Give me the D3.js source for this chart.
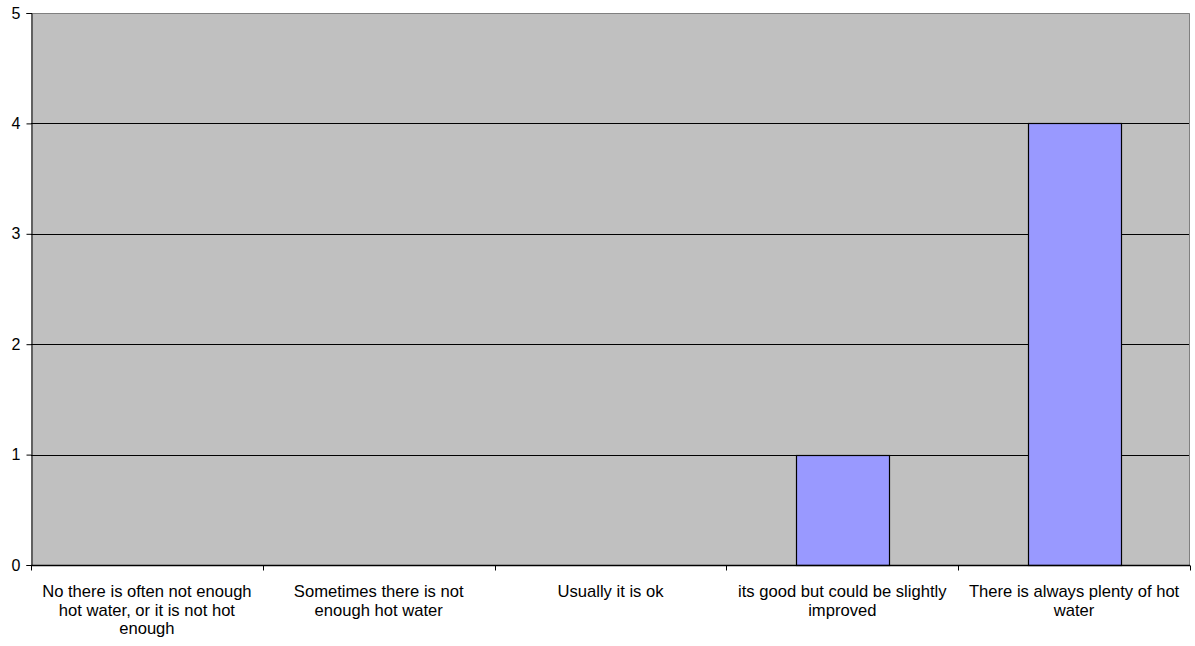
<!DOCTYPE html>
<html>
<head>
<meta charset="utf-8">
<script src="https://cdn.jsdelivr.net/npm/d3@7/dist/d3.min.js"></script>
<style>
  html, body { margin: 0; padding: 0; background: #fff; }
  svg { display: block; font-family: "Liberation Sans", Arial, sans-serif; }
</style>
</head>
<body>
<svg id="chart" width="1195" height="646"></svg>
<script>
// Survey responses about hot water availability
const categories = [
  "No there is often not enough hot water, or it is not hot enough",
  "Sometimes there is not enough hot water",
  "Usually it is ok",
  "its good but could be slightly improved",
  "There is always plenty of hot water"
];
const counts = [0, 0, 0, 1, 4];
const yTicks = [0, 1, 2, 3, 4, 5];

const svg = d3.select("#chart");
const plot = { left: 31, right: 1190, top: 13, bottom: 565 };

const x = d3.scaleBand()
  .domain(categories)
  .range([plot.left, plot.right])
  .padding(0);

const y = d3.scaleLinear()
  .domain([0, 5])
  .range([plot.bottom, plot.top]);

// Plot area background
svg.append("rect")
  .attr("x", plot.left)
  .attr("y", plot.top)
  .attr("width", plot.right - plot.left)
  .attr("height", plot.bottom - plot.top)
  .attr("fill", "#c0c0c0");

// Horizontal gridlines
svg.append("g")
  .selectAll("line")
  .data(yTicks.filter(d => d > 0 && d < 5))
  .join("line")
  .attr("x1", plot.left)
  .attr("x2", plot.right)
  .attr("y1", d => Math.round(y(d)) + 0.5)
  .attr("y2", d => Math.round(y(d)) + 0.5)
  .attr("stroke", "#000")
  .attr("stroke-width", 1);

// Plot area top and right border
svg.append("path")
  .attr("d", `M${plot.left},${plot.top + 0.5}H${plot.right - 0.5}V${plot.bottom}`)
  .attr("fill", "none")
  .attr("stroke", "#808080")
  .attr("stroke-width", 1);

// Bars
const barFrac = 0.4;
svg.append("g")
  .selectAll("rect")
  .data(categories.map((c, i) => ({ c, v: counts[i] })).filter(d => d.v > 0))
  .join("rect")
  .attr("x", d => Math.round(x(d.c) + x.bandwidth() * (1 - barFrac) / 2) + 0.5)
  .attr("y", d => Math.round(y(d.v)) + 0.5)
  .attr("width", Math.round(x.bandwidth() * barFrac))
  .attr("height", d => Math.round(y(0)) - Math.round(y(d.v)))
  .attr("fill", "#9999ff")
  .attr("stroke", "#000")
  .attr("stroke-width", 1.2);

// Y axis
const yAxis = svg.append("g")
  .attr("transform", `translate(${plot.left + 0.5},0)`)
  .call(d3.axisLeft(y).tickValues(yTicks).tickFormat(d3.format("d")).tickSize(5).tickPadding(6));
yAxis.select(".domain").attr("stroke", "#000");
yAxis.selectAll(".tick line").attr("stroke", "#000");
yAxis.selectAll(".tick text")
  .attr("font-size", "16px")
  .attr("font-family", "Liberation Sans, Arial, sans-serif")
  .attr("fill", "#000");

// X axis: ticks on category boundaries
const xAxis = svg.append("g")
  .attr("transform", `translate(0,${plot.bottom + 0.5})`);
xAxis.append("line")
  .attr("x1", plot.left)
  .attr("x2", plot.right)
  .attr("stroke", "#000")
  .attr("stroke-width", 1.5);
const boundaries = categories.map(c => x(c)).concat([x.range()[1]]);
xAxis.selectAll("line.tk")
  .data(boundaries)
  .join("line")
  .attr("class", "tk")
  .attr("x1", d => Math.round(d) + 0.5)
  .attr("x2", d => Math.round(d) + 0.5)
  .attr("y1", 0)
  .attr("y2", 5)
  .attr("stroke", "#000");

// Category labels, wrapped to the band width
const wrapWidth = 220;
const lineHeight = 18.7;
const labels = xAxis.selectAll("text.cat")
  .data(categories)
  .join("text")
  .attr("class", "cat")
  .attr("text-anchor", "middle")
  .attr("font-size", "16.6px")
  .attr("fill", "#000")
  .attr("x", d => x(d) + x.bandwidth() / 2)
  .attr("y", 31.5);

labels.each(function (d) {
  const t = d3.select(this);
  const cx = x(d) + x.bandwidth() / 2;
  const words = d.split(" ");
  let line = [];
  let tspan = t.append("tspan").attr("x", cx).attr("dy", 0);
  for (const w of words) {
    line.push(w);
    tspan.text(line.join(" "));
    if (tspan.node().getComputedTextLength() > wrapWidth && line.length > 1) {
      line.pop();
      tspan.text(line.join(" "));
      line = [w];
      tspan = t.append("tspan").attr("x", cx).attr("dy", lineHeight).text(w);
    }
  }
});
</script>
</body>
</html>
